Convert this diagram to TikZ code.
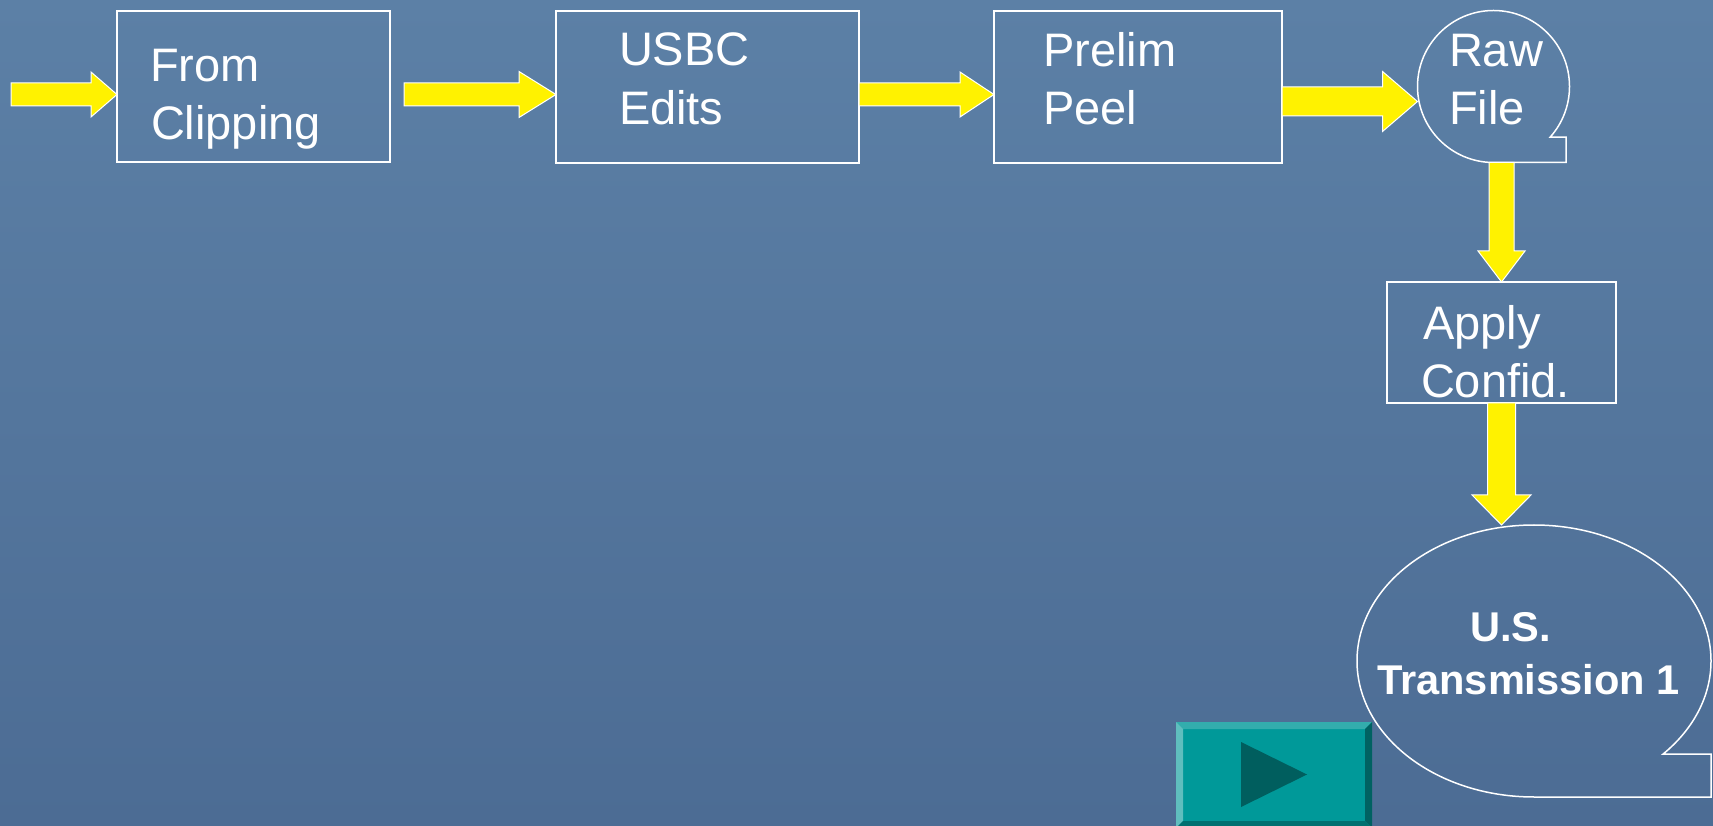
\documentclass[tikz,border=0pt]{standalone}
\usepackage{fontspec}
\setmainfont{Liberation Sans}
\usetikzlibrary{calc,shapes.geometric}
\definecolor{bgtop}{RGB}{92,128,166}
\definecolor{bgbot}{RGB}{76,108,148}
\definecolor{btnface}{RGB}{0,153,153}
\definecolor{btntop}{RGB}{51,173,173}
\definecolor{btnleft}{RGB}{95,190,190}
\definecolor{btnright}{RGB}{0,98,98}
\definecolor{btnbot}{RGB}{0,112,112}
\definecolor{btntri}{RGB}{0,94,94}
\tikzset{
  x=1pt, y=1pt,
  boxnode/.style={draw=white, line width=1.5pt, rectangle, inner sep=0pt, outer sep=0pt},
  shapeline/.style={draw=white, line width=1.5pt},
  lbl/.style={text=white, anchor=base west, inner sep=0pt, outer sep=0pt, font=\fontsize{47}{56}\selectfont},
  lblbold/.style={text=white, anchor=base west, inner sep=0pt, outer sep=0pt, font=\fontsize{41.6}{50}\selectfont\bfseries},
  yarrow/.style={fill=yellow, draw=white, line width=1pt, line join=miter},
  blockarrow/.style n args={3}{
    to path={
      ($(\tikztostart)!#1!90:(\tikztotarget)$)
      -- ($($(\tikztotarget)!#3!(\tikztostart)$)!#1!90:(\tikztotarget)$)
      -- ($($(\tikztotarget)!#3!(\tikztostart)$)!#2!90:(\tikztotarget)$)
      -- (\tikztotarget)
      -- ($($(\tikztotarget)!#3!(\tikztostart)$)!#2!-90:(\tikztotarget)$)
      -- ($($(\tikztotarget)!#3!(\tikztostart)$)!#1!-90:(\tikztotarget)$)
      -- ($(\tikztostart)!#1!-90:(\tikztotarget)$)
      -- cycle
    }
  }
}
\begin{document}
\begin{tikzpicture}
\useasboundingbox (0,0) rectangle (1713,825);
\shade[top color=bgtop, bottom color=bgbot] (0,0) rectangle (1713,825);

% boxes
\node[boxnode, minimum width=273pt, minimum height=151pt] (clip) at (253.5,738.5) {};
\node[boxnode, minimum width=303pt, minimum height=152pt] (usbc) at (707.5,738) {};
\node[boxnode, minimum width=288pt, minimum height=152pt] (prelim) at (1138,738) {};
\node[circle, minimum size=152pt, inner sep=0pt, outer sep=0pt] (raw) at (1493.5,738.5) {};
\node[boxnode, minimum width=229pt, minimum height=121pt] (apply) at (1501.5,482.5) {};
\node[ellipse, minimum width=354pt, minimum height=272pt, inner sep=0pt, outer sep=0pt] (trans) at (1534,164) {};

% tape shapes
\draw[shapeline] (raw.south) arc[start angle=270, end angle=-41.8, radius=76pt]
  -- ++(16,0) |- (raw.south) -- cycle;
\draw[shapeline] (trans.south) arc[start angle=270, end angle=-43.2, x radius=177pt, y radius=136pt]
  -- ++(48,0) |- (trans.south) -- cycle;

% texts
\node[lbl] (t1a) at (150,743) {From};
\node[lbl] (t1b) at (151,685) {Clipping};
\node[lbl] (t2a) at (619,759) {USBC};
\node[lbl] (t2b) at (619,700) {Edits};
\node[lbl] (t3a) at (1043,758) {Prelim};
\node[lbl] (t3b) at (1043,700) {Peel};
\node[lbl] (t4a) at (1449,758) {Raw};
\node[lbl] (t4b) at (1449,700) {File};
\node[lbl] (t5a) at (1423,485) {Apply};
\node[lbl] (t5b) at (1421,427) {Confid.};
\node[lblbold] (t6a) at (1470,183) {U.S.};
\node[lblbold] (t6b) at (1377,131) {Transmission 1};

% arrow ends
\coordinate (in) at (11,730.5);
\coordinate (a1s) at ([shift={(14pt,-8pt)}]clip.east);
\coordinate (a2s) at (usbc.east |- a1s);
\coordinate (a3s) at ([yshift=-14.5pt]prelim.east);

% arrows
\draw[yarrow, blockarrow={11.5pt}{22.5pt}{26pt}] (in) to (clip.west |- in);
\draw[yarrow, blockarrow={11.5pt}{23pt}{37pt}] (a1s) to (usbc.west |- a1s);
\draw[yarrow, blockarrow={11.5pt}{22.5pt}{34pt}] (a2s) to (prelim.west |- a2s);
\draw[yarrow, blockarrow={14.5pt}{30pt}{35pt}] (a3s) to (raw.west |- a3s);
\draw[yarrow, blockarrow={12.5pt}{23.5pt}{31pt}] (apply.north |- raw.south) to (apply.north);
\draw[yarrow, blockarrow={14pt}{29.5pt}{30pt}] (apply.south) to (apply.south |- trans.north);

% button
\node[rectangle, fill=btnface, minimum width=196pt, minimum height=106pt, inner sep=0pt, outer sep=0pt] (btn) at (1274,50) {};
\fill[btntop] (btn.north west) -- (btn.north east) -- ++(-7,-7) -- ([shift={(7pt,-7pt)}]btn.north west) -- cycle;
\fill[btnleft] (btn.north west) -- ([shift={(7pt,-7pt)}]btn.north west) -- ([shift={(7pt,7pt)}]btn.south west) -- (btn.south west) -- cycle;
\fill[btnright] (btn.north east) -- ([shift={(-7pt,-7pt)}]btn.north east) -- ([shift={(-7pt,7pt)}]btn.south east) -- (btn.south east) -- cycle;
\fill[btnbot] (btn.south west) -- ([shift={(7pt,7pt)}]btn.south west) -- ([shift={(-7pt,7pt)}]btn.south east) -- (btn.south east) -- cycle;
\fill[btntri] (1241,83) -- (1241,18) -- (1307,50.5) -- cycle;
\end{tikzpicture}
\end{document}
